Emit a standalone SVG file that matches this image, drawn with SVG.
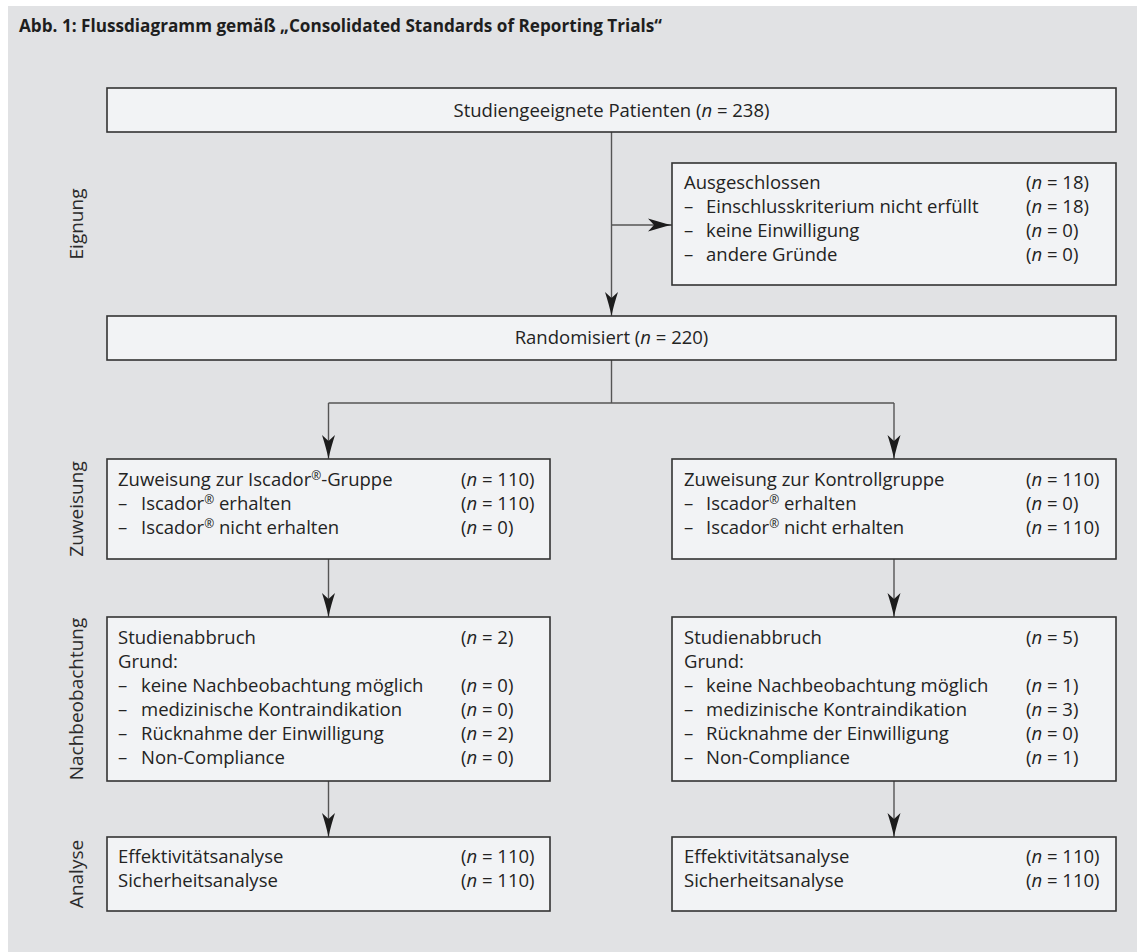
<svg xmlns="http://www.w3.org/2000/svg" width="1137" height="952" viewBox="0 0 1137 952">
<style>
.bg{fill:#e1e2e4}
.box{fill:#f2f3f5;stroke:#333;stroke-width:1.6}
.t{font-family:"Open Sans","Noto Sans","Liberation Sans",sans-serif;font-size:18.5px;fill:#232323}
.c{text-anchor:middle}
.side{font-family:"Open Sans","Noto Sans","Liberation Sans",sans-serif;font-size:19px;fill:#2b2b2b;text-anchor:middle}
.title{font-family:"Open Sans","Noto Sans","Liberation Sans",sans-serif;font-size:17px;font-weight:bold;fill:#1e1e1e}
.i{font-style:italic}
.sup{font-size:12px}
.conn line{stroke:#555;stroke-width:1.4;fill:none}
.arr line{marker-end:url(#ah)}
</style>
<defs>
<marker id="ah" viewBox="-25 -7 26 14" refX="0" refY="0" markerWidth="26" markerHeight="14" markerUnits="userSpaceOnUse" orient="auto">
<path d="M0,0 C-8,-1.6 -16,-4 -24,-6.5 L-18,0 L-24,6.5 C-16,4 -8,1.6 0,0 Z" fill="#1c1c1c"/>
</marker>
</defs>
<rect class="bg" x="8" y="6" width="1129" height="946"/>
<text class="title" x="19" y="32" textLength="643" lengthAdjust="spacingAndGlyphs">Abb. 1: Flussdiagramm gemäß „Consolidated Standards of Reporting Trials“</text>

<g id="labels">
<text class="side" transform="translate(83,224) rotate(-90)">Eignung</text>
<text class="side" transform="translate(83,509) rotate(-90)">Zuweisung</text>
<text class="side" transform="translate(83,699) rotate(-90)">Nachbeobachtung</text>
<text class="side" transform="translate(83,874) rotate(-90)">Analyse</text>
</g>

<g id="conn" class="conn">
<g class="arr">
<line x1="611.5" y1="132" x2="611.5" y2="316"/>
<line x1="611.5" y1="225" x2="672" y2="225"/>
<line x1="328.5" y1="403" x2="328.5" y2="459"/>
<line x1="894" y1="403" x2="894" y2="459"/>
<line x1="328.5" y1="559" x2="328.5" y2="617"/>
<line x1="894" y1="559" x2="894" y2="617"/>
<line x1="328.5" y1="781" x2="328.5" y2="837"/>
<line x1="894" y1="781" x2="894" y2="837"/>
</g>
<line x1="611.5" y1="360" x2="611.5" y2="403"/>
<line x1="328.5" y1="403" x2="894" y2="403"/>
</g>

<g id="n-studien">
<rect class="box" x="107" y="88" width="1009" height="44"/>
<text class="t c" x="611.5" y="116.5">Studiengeeignete Patienten (<tspan class="i">n</tspan> = 238)</text>
</g>

<g id="n-ausgeschlossen">
<rect class="box" x="672" y="163" width="444" height="122"/>
<text class="t" x="684" y="189">Ausgeschlossen</text>
<text class="t" x="684" y="213">–</text><text class="t" x="706" y="213">Einschlusskriterium nicht erfüllt</text>
<text class="t" x="684" y="237">–</text><text class="t" x="706" y="237">keine Einwilligung</text>
<text class="t" x="684" y="261">–</text><text class="t" x="706" y="261">andere Gründe</text>
<text class="t" x="1026" y="189">(<tspan class="i">n</tspan> = 18)</text>
<text class="t" x="1026" y="213">(<tspan class="i">n</tspan> = 18)</text>
<text class="t" x="1026" y="237">(<tspan class="i">n</tspan> = 0)</text>
<text class="t" x="1026" y="261">(<tspan class="i">n</tspan> = 0)</text>
</g>

<g id="n-random">
<rect class="box" x="107" y="316" width="1009" height="44"/>
<text class="t c" x="611.5" y="344">Randomisiert (<tspan class="i">n</tspan> = 220)</text>
</g>

<g id="n-zuw-iscador">
<rect class="box" x="107" y="459" width="443" height="100"/>
<text class="t" x="118" y="485.5">Zuweisung zur Iscador<tspan class="sup" dy="-6">®</tspan><tspan dy="6">-Gruppe</tspan></text>
<text class="t" x="118" y="509.5">–</text><text class="t" x="141" y="509.5">Iscador<tspan class="sup" dy="-6">®</tspan><tspan dy="6"> erhalten</tspan></text>
<text class="t" x="118" y="533.5">–</text><text class="t" x="141" y="533.5">Iscador<tspan class="sup" dy="-6">®</tspan><tspan dy="6"> nicht erhalten</tspan></text>
<text class="t" x="461" y="485.5">(<tspan class="i">n</tspan> = 110)</text>
<text class="t" x="461" y="509.5">(<tspan class="i">n</tspan> = 110)</text>
<text class="t" x="461" y="533.5">(<tspan class="i">n</tspan> = 0)</text>
</g>

<g id="n-zuw-kontroll">
<rect class="box" x="672" y="459" width="444" height="100"/>
<text class="t" x="684" y="485.5">Zuweisung zur Kontrollgruppe</text>
<text class="t" x="684" y="509.5">–</text><text class="t" x="706" y="509.5">Iscador<tspan class="sup" dy="-6">®</tspan><tspan dy="6"> erhalten</tspan></text>
<text class="t" x="684" y="533.5">–</text><text class="t" x="706" y="533.5">Iscador<tspan class="sup" dy="-6">®</tspan><tspan dy="6"> nicht erhalten</tspan></text>
<text class="t" x="1026" y="485.5">(<tspan class="i">n</tspan> = 110)</text>
<text class="t" x="1026" y="509.5">(<tspan class="i">n</tspan> = 0)</text>
<text class="t" x="1026" y="533.5">(<tspan class="i">n</tspan> = 110)</text>
</g>

<g id="n-nach-iscador">
<rect class="box" x="107" y="617" width="443" height="164"/>
<text class="t" x="118" y="643.5">Studienabbruch</text>
<text class="t" x="118" y="667.5">Grund:</text>
<text class="t" x="118" y="691.5">–</text><text class="t" x="141" y="691.5">keine Nachbeobachtung möglich</text>
<text class="t" x="118" y="715.5">–</text><text class="t" x="141" y="715.5">medizinische Kontraindikation</text>
<text class="t" x="118" y="739.5">–</text><text class="t" x="141" y="739.5">Rücknahme der Einwilligung</text>
<text class="t" x="118" y="763.5">–</text><text class="t" x="141" y="763.5">Non-Compliance</text>
<text class="t" x="461" y="643.5">(<tspan class="i">n</tspan> = 2)</text>
<text class="t" x="461" y="691.5">(<tspan class="i">n</tspan> = 0)</text>
<text class="t" x="461" y="715.5">(<tspan class="i">n</tspan> = 0)</text>
<text class="t" x="461" y="739.5">(<tspan class="i">n</tspan> = 2)</text>
<text class="t" x="461" y="763.5">(<tspan class="i">n</tspan> = 0)</text>
</g>

<g id="n-nach-kontroll">
<rect class="box" x="672" y="617" width="444" height="164"/>
<text class="t" x="684" y="643.5">Studienabbruch</text>
<text class="t" x="684" y="667.5">Grund:</text>
<text class="t" x="684" y="691.5">–</text><text class="t" x="706" y="691.5">keine Nachbeobachtung möglich</text>
<text class="t" x="684" y="715.5">–</text><text class="t" x="706" y="715.5">medizinische Kontraindikation</text>
<text class="t" x="684" y="739.5">–</text><text class="t" x="706" y="739.5">Rücknahme der Einwilligung</text>
<text class="t" x="684" y="763.5">–</text><text class="t" x="706" y="763.5">Non-Compliance</text>
<text class="t" x="1026" y="643.5">(<tspan class="i">n</tspan> = 5)</text>
<text class="t" x="1026" y="691.5">(<tspan class="i">n</tspan> = 1)</text>
<text class="t" x="1026" y="715.5">(<tspan class="i">n</tspan> = 3)</text>
<text class="t" x="1026" y="739.5">(<tspan class="i">n</tspan> = 0)</text>
<text class="t" x="1026" y="763.5">(<tspan class="i">n</tspan> = 1)</text>
</g>

<g id="n-analyse-iscador">
<rect class="box" x="107" y="837" width="443" height="74"/>
<text class="t" x="118" y="863">Effektivitätsanalyse</text>
<text class="t" x="118" y="887">Sicherheitsanalyse</text>
<text class="t" x="461" y="863">(<tspan class="i">n</tspan> = 110)</text>
<text class="t" x="461" y="887">(<tspan class="i">n</tspan> = 110)</text>
</g>

<g id="n-analyse-kontroll">
<rect class="box" x="672" y="837" width="444" height="74"/>
<text class="t" x="684" y="863">Effektivitätsanalyse</text>
<text class="t" x="684" y="887">Sicherheitsanalyse</text>
<text class="t" x="1026" y="863">(<tspan class="i">n</tspan> = 110)</text>
<text class="t" x="1026" y="887">(<tspan class="i">n</tspan> = 110)</text>
</g>
</svg>
